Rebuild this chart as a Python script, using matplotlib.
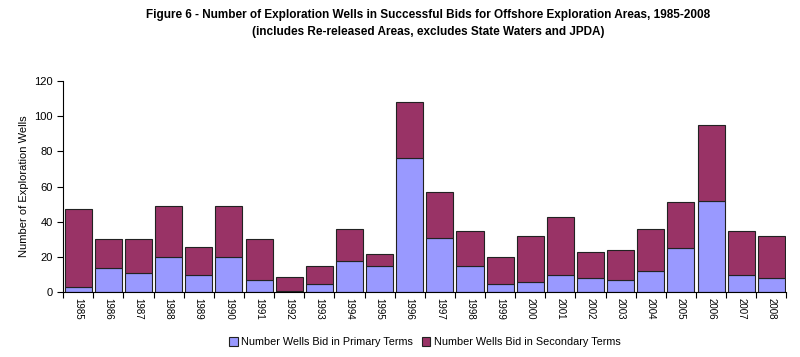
import matplotlib
matplotlib.use("Agg")
import matplotlib.pyplot as plt
import numpy as np

years = [str(y) for y in range(1985, 2009)]
totals = [47, 30, 30, 49, 26, 49, 30, 9, 15, 36, 22, 108, 57, 35, 20, 32, 43, 23, 24, 36, 51, 95, 35, 32]
primary = [3, 14, 11, 20, 10, 20, 7, 1, 5, 18, 15, 76, 31, 15, 5, 6, 10, 8, 7, 12, 25, 52, 10, 8]
secondary = [t - p for t, p in zip(totals, primary)]

plt.rcParams['font.family'] = ['Liberation Sans', 'DejaVu Sans']

fig = plt.figure(figsize=(8, 3.57), dpi=100)
ax = fig.add_axes([0.079, 0.181, 0.904, 0.593])
x = np.arange(len(years))
ax.bar(x, primary, width=0.9, color='#9999FF', edgecolor='#222222', linewidth=0.8,
       label='Number Wells Bid in Primary Terms')
ax.bar(x, secondary, bottom=primary, width=0.9, color='#993366', edgecolor='#222222', linewidth=0.8,
       label='Number Wells Bid in Secondary Terms')

ax.set_xlim(-0.5, len(years) - 0.5)
ax.set_ylim(0, 120)
ax.set_yticks(range(0, 121, 20))
ax.set_xticks(np.arange(-0.5, len(years), 1.0))
ax.set_xticklabels([])
ax.set_xticks(x, minor=True)
ax.set_xticklabels(years, minor=True, rotation=270, fontsize=7)
ax.tick_params(axis='x', which='minor', length=0, pad=4)
ax.tick_params(axis='x', which='major', length=4, direction='out', width=0.8)
ax.tick_params(axis='y', length=4, direction='out', width=0.8, labelsize=8)
for s in ['top', 'right']:
    ax.spines[s].set_visible(False)
ax.set_ylabel('Number of Exploration Wells', fontsize=8)

fig.text(0.535, 0.975, 'Figure 6 - Number of Exploration Wells in Successful Bids for Offshore Exploration Areas, 1985-2008\n'
         '(includes Re-released Areas, excludes State Waters and JPDA)',
         fontsize=8.5, fontweight='bold', ha='center', va='top',
         linespacing=1.55, multialignment='center')

fig.legend(loc='lower center', bbox_to_anchor=(0.531, 0.0), ncol=2, frameon=False, fontsize=7.8,
           handlelength=0.8, handleheight=0.8, handletextpad=0.3, columnspacing=0.8)

fig.savefig('out.png', dpi=100)
